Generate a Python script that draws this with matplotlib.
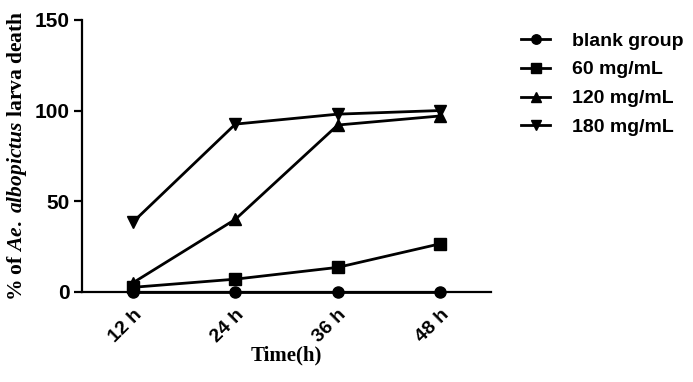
import matplotlib
matplotlib.use("Agg")
import matplotlib.pyplot as plt

# data
times = ["12 h", "24 h", "36 h", "48 h"]
blank_group = [0, 0, 0, 0]
mg60 = [2.5, 7, 13.5, 26.5]
mg120 = [5, 40, 92, 97]
mg180 = [38.5, 92.5, 98, 100]

series = [
    ("blank group", blank_group, "o", 8),
    ("60 mg/mL", mg60, "s", 9),
    ("120 mg/mL", mg120, "^", 9),
    ("180 mg/mL", mg180, "v", 9),
]

plt.rcParams["mathtext.fontset"] = "custom"
plt.rcParams["mathtext.it"] = "Liberation Serif:italic:bold"
plt.rcParams["mathtext.rm"] = "Liberation Serif:bold"

fig = plt.figure(figsize=(6.93, 3.82), dpi=100)
ax = fig.add_axes([0.118, 0.236, 0.591, 0.712])

x = list(range(len(times)))
for label, vals, marker, ms in series:
    ax.plot(x, vals, color="black", linewidth=2, marker=marker,
            markersize=ms, label=label, clip_on=False, zorder=3)

ax.set_xlim(-0.5, 3.5)
ax.set_ylim(0, 150)
ax.set_yticks([0, 50, 100, 150])
ax.set_xticks(x)
ax.set_xticklabels(times, rotation=45, ha="right", rotation_mode="anchor",
                   fontfamily="Liberation Sans", fontweight="bold", fontsize=14)
for t in ax.get_yticklabels():
    t.set_fontfamily("Liberation Sans")
    t.set_fontweight("bold")
    t.set_fontsize(15)

ax.spines["top"].set_visible(False)
ax.spines["right"].set_visible(False)
ax.spines["left"].set_linewidth(1.6)
ax.spines["bottom"].set_linewidth(1.6)
ax.tick_params(axis="y", length=6, width=1.6, pad=3)
ax.tick_params(axis="x", length=4, width=1.6, pad=6)

ax.set_xlabel("Time(h)", fontfamily="Liberation Serif", fontweight="bold",
              fontsize=15, labelpad=0)
ax.set_ylabel(r"% of $Ae.$ $albopictus$ larva death", fontfamily="Liberation Serif",
              fontweight="bold", fontsize=15.5, labelpad=4)

leg = ax.legend(loc="upper left", bbox_to_anchor=(1.03, 1.02), frameon=False,
                prop={"family": "Liberation Sans", "weight": "bold", "size": 14},
                handlelength=1.5, handletextpad=1.1, labelspacing=0.58,
                markerscale=0.85)

fig.savefig("out.png", dpi=100)
